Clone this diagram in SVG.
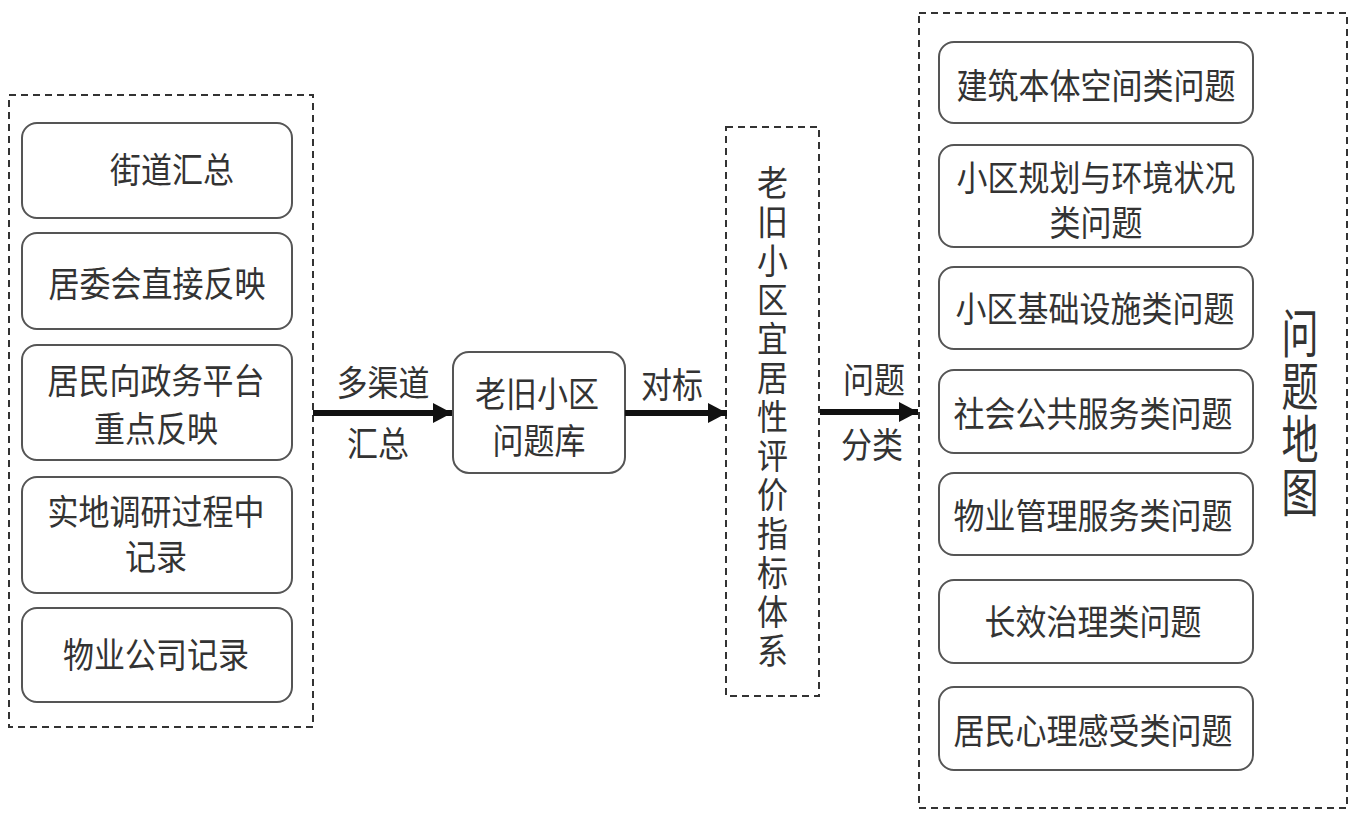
<svg xmlns="http://www.w3.org/2000/svg" width="1353" height="825" viewBox="0 0 1353 825">
<style>
.t{font-family:"Noto Sans CJK SC","Noto Sans",sans-serif;font-size:31px;fill:#333;text-anchor:middle}
.v{writing-mode:vertical-rl;text-anchor:start}
.big{font-size:37px}
.box{fill:#fff;stroke:#555;stroke-width:2}
.dash{fill:none;stroke:#333;stroke-width:2;stroke-dasharray:7 5}
.arr{stroke:#111;stroke-width:6;fill:none;marker-end:url(#ah)}
</style>
<defs>
<marker id="ah" markerUnits="userSpaceOnUse" markerWidth="22" markerHeight="22" refX="19" refY="10" orient="auto">
<path d="M0,0 L19,10 L0,20 Z" fill="#111"/>
</marker>
</defs>
<rect width="1353" height="825" fill="#fff"/>

<g id="sources">
<rect class="dash" x="9" y="95" width="304" height="632"/>
<g id="n1"><rect class="box" x="22" y="123" width="270" height="95" rx="15"/>
<text class="t" transform="translate(172,170) scale(1,1.15)" y="11">街道汇总</text></g>
<g id="n2"><rect class="box" x="22" y="233" width="270" height="96" rx="15"/>
<text class="t" transform="translate(157,284) scale(1,1.15)" y="11">居委会直接反映</text></g>
<g id="n3"><rect class="box" x="22" y="345" width="270" height="115" rx="15"/>
<text class="t" transform="translate(156,381) scale(1,1.15)" y="11">居民向政务平台</text>
<text class="t" transform="translate(156,429) scale(1,1.15)" y="11">重点反映</text></g>
<g id="n4"><rect class="box" x="22" y="477" width="270" height="116" rx="15"/>
<text class="t" transform="translate(156,512) scale(1,1.15)" y="11">实地调研过程中</text>
<text class="t" transform="translate(156,557) scale(1,1.15)" y="11">记录</text></g>
<g id="n5"><rect class="box" x="22" y="608" width="270" height="94" rx="15"/>
<text class="t" transform="translate(156,655) scale(1,1.15)" y="11">物业公司记录</text></g>
</g>

<g id="library">
<rect class="box" x="453" y="352" width="172" height="121" rx="16"/>
<text class="t" transform="translate(537,394) scale(1,1.15)" y="11">老旧小区</text>
<text class="t" transform="translate(539,441) scale(1,1.15)" y="11">问题库</text>
</g>

<g id="index">
<rect class="dash" x="726" y="127" width="93" height="569"/>
<text class="t v" transform="translate(772.5,0) scale(1,1.15)" x="0" y="143.2" letter-spacing="2.9">老旧小区宜居性评价指标体系</text>
</g>

<g id="problem-map">
<rect class="dash" x="919" y="13" width="428" height="795"/>
<g id="c1"><rect class="box" x="939" y="42" width="314" height="81" rx="15"/>
<text class="t" transform="translate(1096,86) scale(1,1.15)" y="11">建筑本体空间类问题</text></g>
<g id="c2"><rect class="box" x="939" y="145" width="314" height="102" rx="15"/>
<text class="t" transform="translate(1096,178) scale(1,1.15)" y="11">小区规划与环境状况</text>
<text class="t" transform="translate(1096,223) scale(1,1.15)" y="11">类问题</text></g>
<g id="c3"><rect class="box" x="939" y="267" width="314" height="82" rx="15"/>
<text class="t" transform="translate(1095,309) scale(1,1.15)" y="11">小区基础设施类问题</text></g>
<g id="c4"><rect class="box" x="939" y="370" width="314" height="83" rx="15"/>
<text class="t" transform="translate(1093,414) scale(1,1.15)" y="11">社会公共服务类问题</text></g>
<g id="c5"><rect class="box" x="939" y="473" width="314" height="82" rx="15"/>
<text class="t" transform="translate(1093,516) scale(1,1.15)" y="11">物业管理服务类问题</text></g>
<g id="c6"><rect class="box" x="939" y="580" width="314" height="83" rx="15"/>
<text class="t" transform="translate(1093,622) scale(1,1.15)" y="11">长效治理类问题</text></g>
<g id="c7"><rect class="box" x="939" y="687" width="314" height="83" rx="15"/>
<text class="t" transform="translate(1093,731) scale(1,1.15)" y="11">居民心理感受类问题</text></g>
<text class="t v big" transform="translate(1300,0) scale(1,1.4)" x="0" y="219.4" letter-spacing="0.9">问题地图</text>
</g>

<g id="connectors">
<line class="arr" x1="313" y1="413" x2="452" y2="413"/>
<line class="arr" x1="625" y1="413" x2="727" y2="413"/>
<line class="arr" x1="820" y1="412" x2="918" y2="412"/>
<text class="t" transform="translate(383,383) scale(1,1.15)" y="11">多渠道</text>
<text class="t" transform="translate(378,444) scale(1,1.15)" y="11">汇总</text>
<text class="t" transform="translate(672,385) scale(1,1.15)" y="11">对标</text>
<text class="t" transform="translate(874,380) scale(1,1.15)" y="11">问题</text>
<text class="t" transform="translate(872,445) scale(1,1.15)" y="11">分类</text>
</g>
</svg>
